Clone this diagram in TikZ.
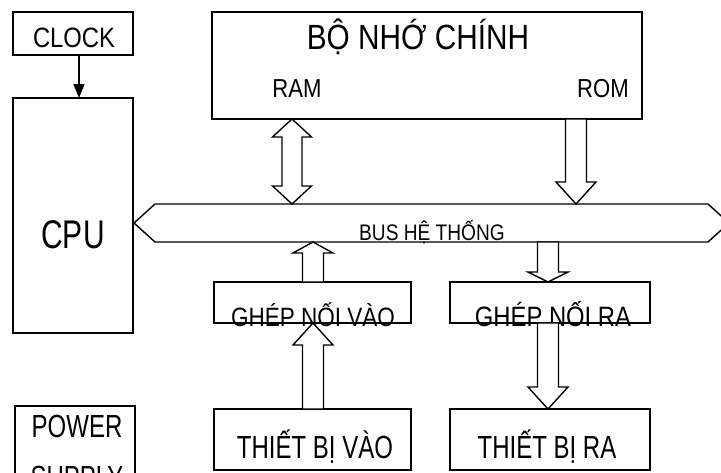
\documentclass[tikz,border=0pt]{standalone}
\usepackage{fontspec}
\setmainfont{Liberation Sans}
\newfontfamily\fA[FakeStretch=0.85]{Liberation Sans}
\newfontfamily\fB[FakeStretch=0.75]{Liberation Sans}
\usetikzlibrary{arrows.meta,calc}
\tikzset{
  box/.style={draw, line width=1.4pt, inner sep=0pt, outer sep=0pt, anchor=north west},
  blk/.style={draw, line width=1.4pt, fill=white, line join=miter},
  tA/.style={font={\fA\fontsize{#1}{#1}\selectfont}, inner sep=0pt, anchor=base},
  tB/.style={font={\fB\fontsize{#1}{#1}\selectfont}, inner sep=0pt, anchor=base},
}
% single block arrow: #1 tip, #2 tail, #3 head length (pt)
\newcommand\blockarrow[3]{%
  \draw[blk] let \p1=(#1), \p2=(#2), \n1={sign(\y2-\y1)*#3} in
    (\p1) -- (\x1-20pt,\y1+\n1) -- (\x1-10.5pt,\y1+\n1) -- (\x1-10.5pt,\y2)
    -- (\x1+10.5pt,\y2) -- (\x1+10.5pt,\y1+\n1) -- (\x1+20pt,\y1+\n1) -- cycle;}
% double block arrow: #1 upper tip, #2 lower tip, #3 head length
\newcommand\dblockarrow[3]{%
  \draw[blk] let \p1=(#1), \p2=(#2) in
    (\p1) -- (\x1+19.5pt,\y1-#3pt) -- (\x1+10pt,\y1-#3pt) -- (\x1+10pt,\y2+#3pt)
    -- (\x1+19.5pt,\y2+#3pt) -- (\x1,\y2) -- (\x1-19.5pt,\y2+#3pt) -- (\x1-10pt,\y2+#3pt)
    -- (\x1-10pt,\y1-#3pt) -- (\x1-19.5pt,\y1-#3pt) -- cycle;}
\begin{document}
\begin{tikzpicture}[x=1pt,y=-1pt]
\useasboundingbox (0,0) rectangle (721,472);
\clip (0,0) rectangle (721,472);
\fill[white] (0,0) rectangle (721,472);

% boxes
\node[box, minimum width=120pt, minimum height=43pt]  (clock) at (13,12) {};
\node[box, minimum width=120pt, minimum height=235pt] (cpu)   at (13,98) {};
\node[box, minimum width=120pt, minimum height=94pt]  (power) at (15,406) {};
\node[box, minimum width=430pt, minimum height=107pt] (mem)   at (212,12) {};
\node[inner sep=0pt, outer sep=0pt, anchor=north west, minimum width=553pt, minimum height=38pt] (bus) at (155,204) {};
\node[box, minimum width=197pt, minimum height=41pt]  (gin)   at (214,282) {};
\node[box, minimum width=200pt, minimum height=41pt]  (gout)  at (450,282) {};
\node[box, minimum width=197pt, minimum height=61pt]  (din)   at (214,409) {};
\node[box, minimum width=200pt, minimum height=61pt]  (dout)  at (450,409) {};

% system bus (double-headed block arrow)
\draw[blk] (bus.north west) -- (bus.north east) -- ([xshift=21pt]bus.east)
  -- (bus.south east) -- (bus.south west) -- ([xshift=-21pt]bus.west) -- cycle;

% texts
\node[tA=28] (tclock) at (74,47) {CLOCK};
\node[tB=40] (tcpu) at (73,248) {CPU};
\node[tB=32] (tpower) at (77,437) {POWER};
\node[tB=32] (tsupply) at (77,488) {SUPPLY};
\node[tA=35] (tmem) at (418,49) {BỘ NHỚ CHÍNH};
\node[tA=26] (tram) at (297,97) {RAM};
\node[tA=26] (trom) at (603,97) {ROM};
\node[tA=22.5] (tbus) at (432,240) {BUS HỆ THỐNG};
\node[tA=26.5] (tgin) at (313,326) {GHÉP NỐI VÀO};
\node[tA=28] (tgout) at (553,326) {GHÉP NỐI RA};
\node[tB=32] (tdin) at (315,458) {THIẾT BỊ VÀO};
\node[tB=32] (tdout) at (547,458) {THIẾT BỊ RA};

% connectors
\draw[line width=1.4pt, -{Triangle[length=14pt,width=11pt]}]
  ([xshift=66pt]clock.south west) -- ([xshift=66pt]cpu.north west);
\dblockarrow{[xshift=80pt]mem.south west}{[xshift=137pt]bus.north west}{18}
\blockarrow{[xshift=421pt]bus.north west}{[xshift=364pt]mem.south west}{22}
\blockarrow{[xshift=158pt]bus.south west}{[xshift=99pt]gin.north west}{11}
\blockarrow{[xshift=98pt]gout.north west}{[xshift=393pt]bus.south west}{10}
\blockarrow{[xshift=99pt]gin.south west}{[xshift=99pt]din.north west}{22}
\blockarrow{[xshift=98pt]dout.north west}{[xshift=98pt]gout.south west}{22}
\end{tikzpicture}
\end{document}
